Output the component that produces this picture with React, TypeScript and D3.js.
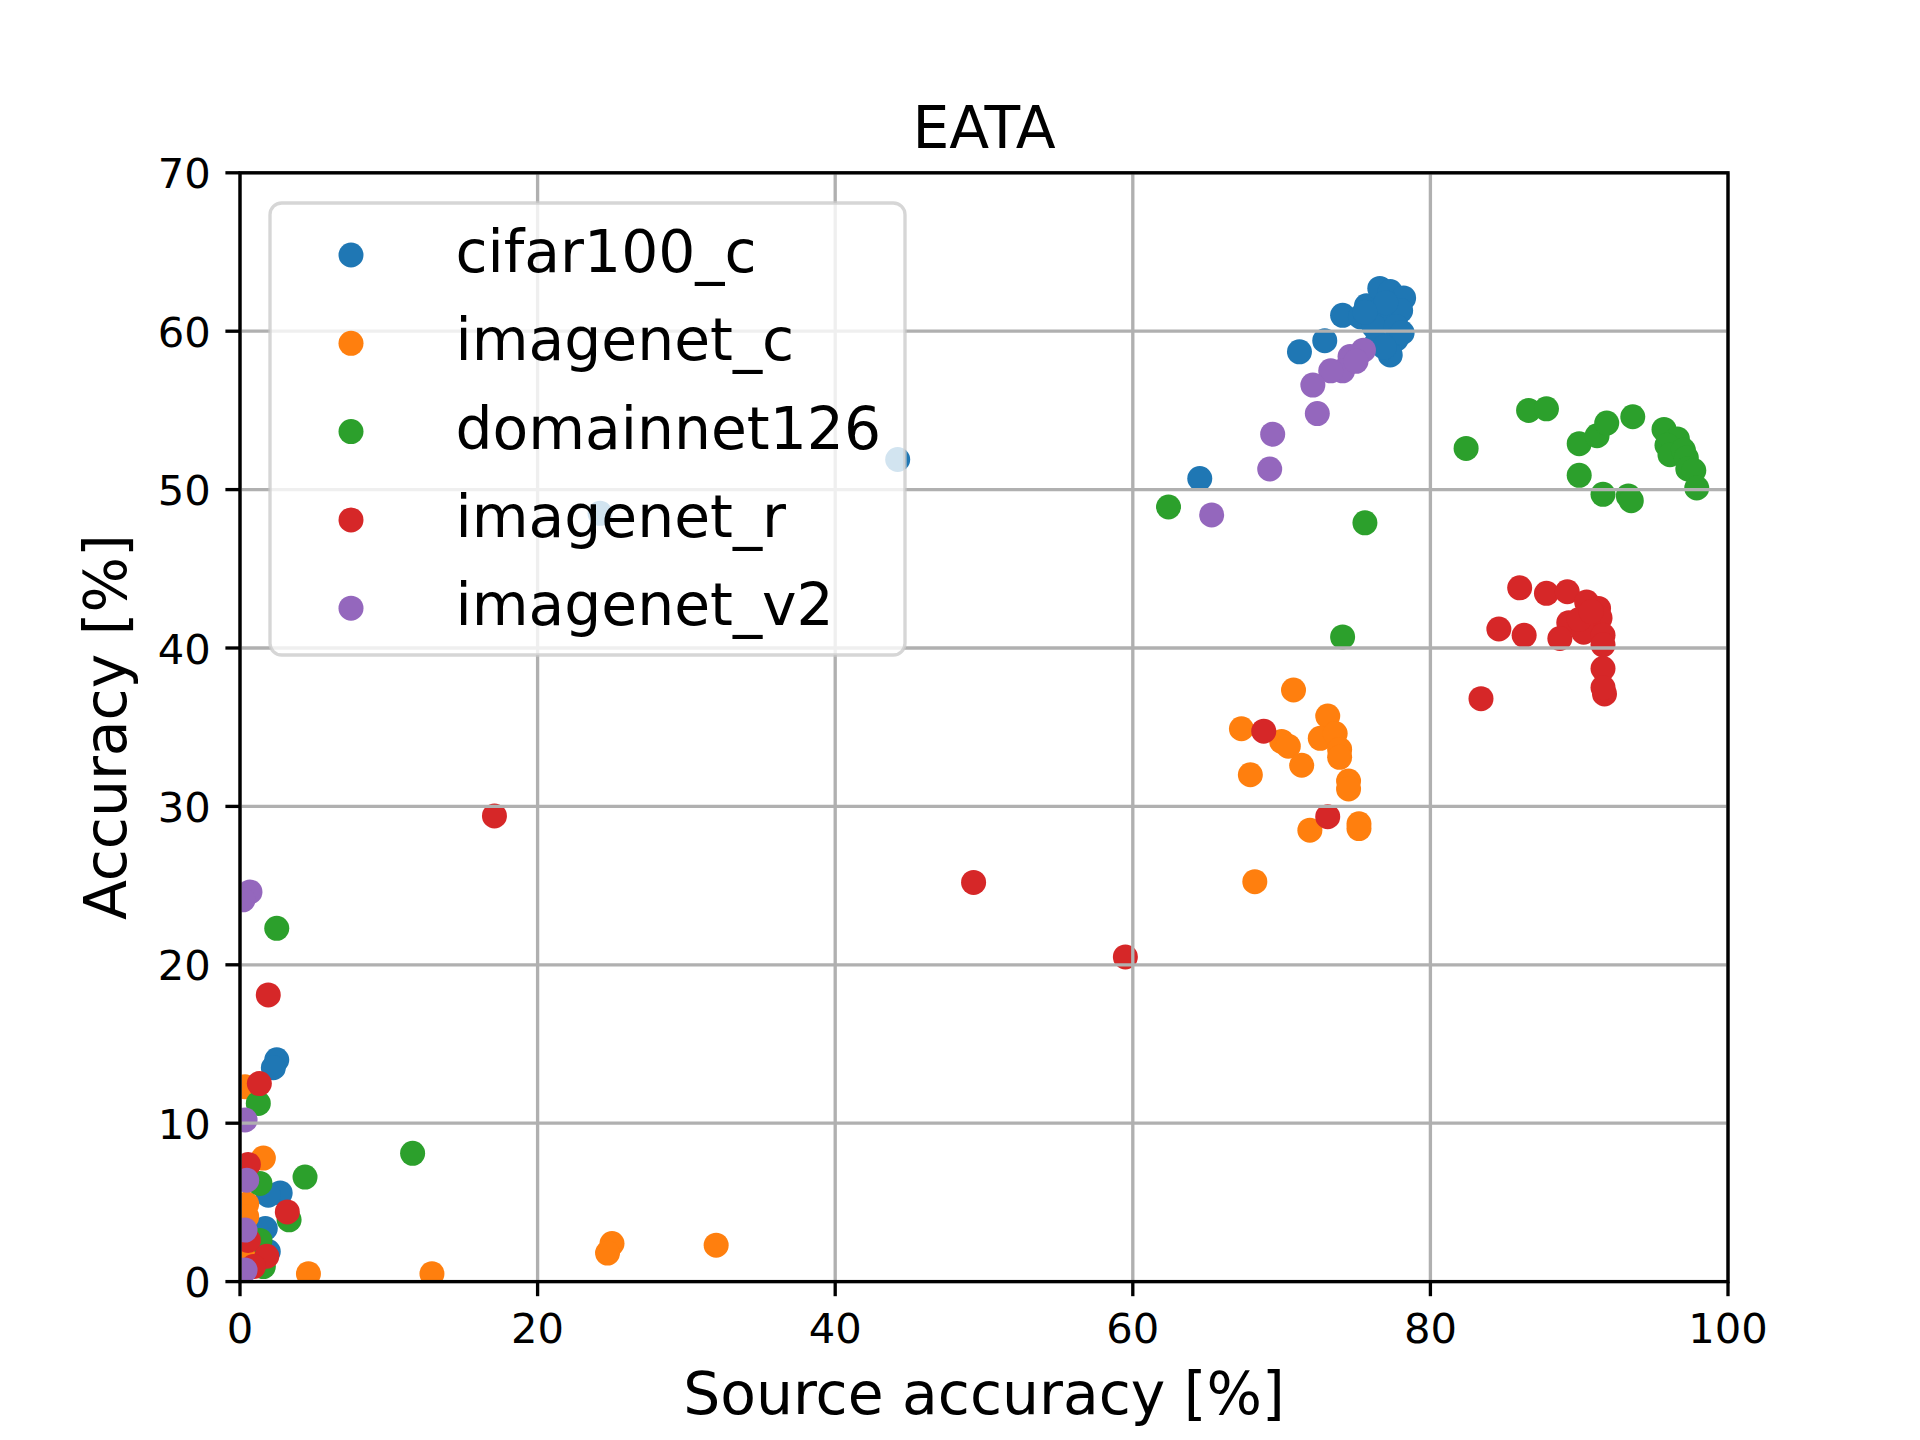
import React from 'react';
import * as d3 from 'd3';

// [source accuracy, accuracy] pairs per dataset
const cifar100C: Array<[number, number]> = [
  [71.2, 58.7], [72.9, 59.4], [74.1, 61.0], [75.3, 60.9], [75.7, 61.6], [76.6, 62.7],
  [77.3, 62.5], [78.2, 62.1], [78.0, 61.3], [76.6, 61.3], [76.2, 60.3], [77.7, 60.3],
  [76.4, 59.3], [77.7, 59.5], [78.1, 59.9], [77.3, 58.5], [76.9, 59.0], [77.0, 61.8],
  [75.6, 61.2], [64.5, 50.7], [44.2, 51.9], [24.2, 48.5], [2.47, 14.0], [2.24, 13.5],
  [2.7, 5.6], [1.9, 5.45], [1.7, 3.35], [1.9, 1.9], [1.5, 1.2],
];

const imagenetC: Array<[number, number]> = [
  [70.8, 37.35], [67.3, 34.9], [70.0, 34.1], [70.45, 33.8], [71.35, 32.6], [67.9, 32.0],
  [73.1, 35.7], [72.6, 34.3], [73.6, 34.6], [73.9, 33.6], [73.9, 33.1], [74.5, 31.6],
  [74.5, 31.1], [71.9, 28.5], [75.2, 28.9], [75.2, 28.6], [68.2, 25.25], [32.0, 2.3],
  [25.0, 2.4], [24.7, 1.8], [12.9, 0.5], [4.6, 0.5], [1.57, 7.8], [0.34, 12.3],
  [0.45, 4.9], [0.45, 4.1], [0.3, 2.0],
];

const domainnet126: Array<[number, number]> = [
  [82.4, 52.6], [86.6, 55.0], [87.8, 55.1], [90.0, 52.9], [91.2, 53.4], [91.85, 54.2],
  [93.6, 54.6], [90.0, 50.9], [91.6, 49.7], [93.3, 49.6], [93.5, 49.3], [95.7, 53.8],
  [96.6, 53.2], [95.9, 52.8], [96.1, 52.2], [97.0, 52.5], [97.2, 52.0], [97.3, 51.3],
  [97.7, 51.2], [97.9, 50.1], [62.4, 48.9], [75.6, 47.9], [74.1, 40.7], [2.47, 22.3],
  [1.23, 11.25], [11.6, 8.1], [4.37, 6.6], [1.34, 6.2], [3.3, 3.9], [1.34, 2.6],
  [1.57, 0.95],
];

const imagenetR: Array<[number, number]> = [
  [86.0, 43.8], [87.8, 43.45], [89.2, 43.55], [90.5, 42.9], [91.3, 42.5], [91.4, 41.9],
  [89.3, 41.6], [88.7, 40.6], [90.3, 41.0], [91.6, 40.8], [91.6, 40.2], [84.6, 41.2],
  [86.3, 40.8], [91.6, 38.7], [91.7, 37.1], [91.6, 37.5], [83.4, 36.8], [90.0, 41.8],
  [90.8, 42.3], [68.8, 34.75], [73.1, 29.35], [59.5, 20.5], [49.3, 25.2], [17.1, 29.4],
  [1.9, 18.1], [1.3, 12.5], [0.56, 7.4], [3.18, 4.4], [0.56, 2.6], [1.8, 1.6],
  [0.9, 0.95],
];

const imagenetV2: Array<[number, number]> = [
  [75.5, 58.8], [74.6, 58.4], [74.1, 57.5], [73.3, 57.5], [72.1, 56.6], [72.4, 54.8],
  [69.4, 53.5], [69.2, 51.3], [65.3, 48.4], [75.0, 58.1], [0.67, 24.6], [0.2, 24.1],
  [0.34, 10.2], [0.45, 6.4], [0.34, 3.25], [0.34, 0.73],
];

const seriesNames = ['cifar100_c', 'imagenet_c', 'domainnet126', 'imagenet_r', 'imagenet_v2'];
const seriesData = [cifar100C, imagenetC, domainnet126, imagenetR, imagenetV2];
const seriesColors = ['#1f77b4', '#ff7f0e', '#2ca02c', '#d62728', '#9467bd'];
const xTicks = [0, 20, 40, 60, 80, 100];
const yTicks = [0, 10, 20, 30, 40, 50, 60, 70];

const W = 1920;
const H = 1440;
const left = 240;
const right = 1728;
const top = 172.8;
const bottom = 1281.6;
const lw = 3.33; // 0.8pt at 300 dpi
const tickLen = 14.6;
const font = 'DejaVu Sans';

export default function App() {
  const x = d3.scaleLinear().domain([0, 100]).range([left, right]);
  const y = d3.scaleLinear().domain([0, 70]).range([bottom, top]);
  const r = 12.5;

  const legendX = 270;
  const legendY = 203;
  const legendW = 635;
  const legendH = 452;
  const rowY = (i: number) => 255 + i * 88.3;

  return (
    <div style={{ position: 'absolute', top: 0, left: 0 }}>
      <svg width={W} height={H} style={{ display: 'block', background: '#fff' }} fontFamily={font}>
        <defs>
          <clipPath id="axes-clip">
            <rect x={left} y={top} width={right - left} height={bottom - top} />
          </clipPath>
        </defs>
        <rect x={0} y={0} width={W} height={H} fill="#fff" />

        <g clipPath="url(#axes-clip)">
          {seriesData.map((pts, si) => (
            <g key={seriesNames[si]} fill={seriesColors[si]}>
              {pts.map((d, i) => (
                <circle key={i} cx={x(d[0])} cy={y(d[1])} r={r} />
              ))}
            </g>
          ))}
        </g>

        {/* grid */}
        <g stroke="#b0b0b0" strokeWidth={lw}>
          {xTicks.map((t) => (
            <line key={'gx' + t} x1={x(t)} x2={x(t)} y1={top} y2={bottom} />
          ))}
          {yTicks.map((t) => (
            <line key={'gy' + t} x1={left} x2={right} y1={y(t)} y2={y(t)} />
          ))}
        </g>

        {/* spines */}
        <rect x={left} y={top} width={right - left} height={bottom - top} fill="none" stroke="#000" strokeWidth={lw} />

        {/* ticks */}
        <g stroke="#000" strokeWidth={lw}>
          {xTicks.map((t) => (
            <line key={'tx' + t} x1={x(t)} x2={x(t)} y1={bottom} y2={bottom + tickLen} />
          ))}
          {yTicks.map((t) => (
            <line key={'ty' + t} x1={left - tickLen} x2={left} y1={y(t)} y2={y(t)} />
          ))}
        </g>
        <g fontSize={41.67} fill="#000">
          {xTicks.map((t) => (
            <text key={'lx' + t} x={x(t)} y={1343} textAnchor="middle">{t}</text>
          ))}
          {yTicks.map((t) => (
            <text key={'ly' + t} x={210.8} y={y(t) + 15.5} textAnchor="end">{t}</text>
          ))}
        </g>

        <text x={(left + right) / 2} y={148} textAnchor="middle" fontSize={58.33}>EATA</text>
        <text x={(left + right) / 2} y={1414} textAnchor="middle" fontSize={58.33}>Source accuracy [%]</text>
        <text
          transform={`translate(126,${(top + bottom) / 2}) rotate(-90)`}
          textAnchor="middle"
          fontSize={58.33}
        >
          Accuracy [%]
        </text>

        {/* legend */}
        <g>
          <rect
            x={legendX}
            y={legendY}
            width={legendW}
            height={legendH}
            rx={11.7}
            ry={11.7}
            fill="#fff"
            fillOpacity={0.8}
            stroke="#cccccc"
            strokeOpacity={0.8}
            strokeWidth={lw}
          />
          {seriesNames.map((name, i) => (
            <g key={name}>
              <circle cx={351} cy={rowY(i)} r={r} fill={seriesColors[i]} />
              <text x={455.5} y={rowY(i) + 17} fontSize={58.33} fill="#000">{name}</text>
            </g>
          ))}
        </g>
      </svg>
    </div>
  );
}
